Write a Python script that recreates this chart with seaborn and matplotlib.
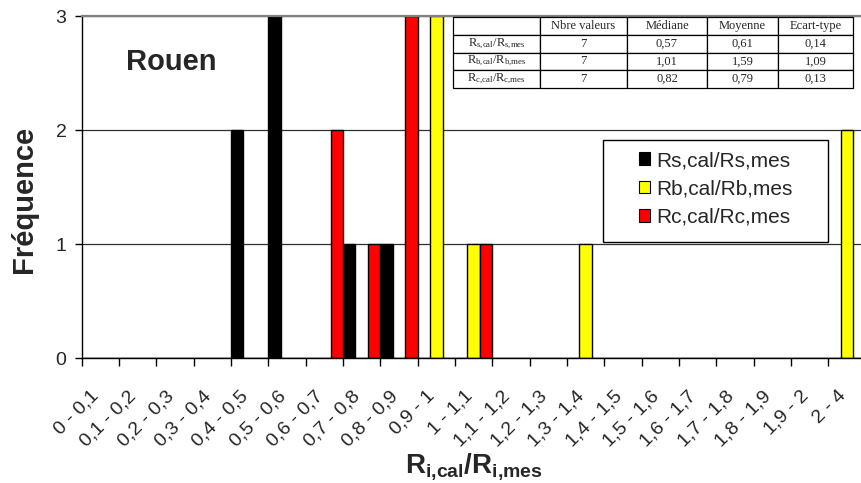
import numpy as np
import pandas as pd
import matplotlib
matplotlib.use("Agg")
import matplotlib.pyplot as plt
import matplotlib.transforms as mtransforms
from matplotlib.patches import Patch, Rectangle
import seaborn as sns

# classes de R_cal/R_mes (axe x)
CATEGORIES = ["0 - 0,1", "0,1 - 0,2", "0,2 - 0,3", "0,3 - 0,4", "0,4 - 0,5",
              "0,5 - 0,6", "0,6 - 0,7", "0,7 - 0,8", "0,8 - 0,9", "0,9 - 1",
              "1 - 1,1", "1,1 - 1,2", "1,2 - 1,3", "1,3 - 1,4", "1,4 - 1,5",
              "1,5 - 1,6", "1,6 - 1,7", "1,7 - 1,8", "1,8 - 1,9", "1,9 - 2",
              "2 - 4"]
SERIES = ["Rs,cal/Rs,mes", "Rb,cal/Rb,mes", "Rc,cal/Rc,mes"]
RS = [0, 0, 0, 0, 2, 3, 0, 1, 1, 0, 0, 0, 0, 0, 0, 0, 0, 0, 0, 0, 0]
RB = [0, 0, 0, 0, 0, 0, 0, 0, 0, 3, 1, 0, 0, 1, 0, 0, 0, 0, 0, 0, 2]
RC = [0, 0, 0, 0, 0, 0, 2, 1, 3, 0, 1, 0, 0, 0, 0, 0, 0, 0, 0, 0, 0]
COLORS = ["#000000", "#FFFF00", "#FF0000"]

# tableau des statistiques
TABLE_COLS = ["", "Nbre valeurs", "Médiane", "Moyenne", "Ecart-type"]
TABLE_ROWS = [r"$\mathrm{R_{s{,}cal}/R_{s{,}mes}}$",
              r"$\mathrm{R_{b{,}cal}/R_{b{,}mes}}$",
              r"$\mathrm{R_{c{,}cal}/R_{c{,}mes}}$"]
NBRE = ["7", "7", "7"]
MEDIANE = ["0,57", "1,01", "0,82"]
MOYENNE = ["0,61", "1,59", "0,79"]
ECART = ["0,14", "1,09", "0,13"]

W, H = 862, 483

sns.set_theme(style="white")
plt.rcParams["font.family"] = ["Liberation Sans", "DejaVu Sans"]
plt.rcParams["mathtext.fontset"] = "custom"
plt.rcParams["mathtext.rm"] = "Liberation Serif"
plt.rcParams["mathtext.sf"] = "Liberation Sans:bold"

df = pd.DataFrame({
    "classe": CATEGORIES * 3,
    "serie": np.repeat(SERIES, len(CATEGORIES)),
    "freq": RS + RB + RC,
})

fig = plt.figure(figsize=(W / 100, H / 100), dpi=100)
ax = fig.add_axes([81.7 / W, 1 - 358.3 / H, 784 / W, 342.3 / H])

sns.barplot(data=df, x="classe", y="freq", hue="serie", order=CATEGORIES,
            hue_order=SERIES, palette=COLORS, width=1.0, saturation=1,
            edgecolor="black", linewidth=1, errorbar=None, legend=False, ax=ax)

ax.set_xlim(-0.5, 20.5)
ax.set_ylim(0, 3)
ax.set_yticks([0, 1, 2, 3])
ax.yaxis.grid(True, color="#303030", linewidth=0.9)
ax.set_axisbelow(True)

for side in ["left", "bottom"]:
    ax.spines[side].set_color("black")
    ax.spines[side].set_linewidth(1)
ax.spines["top"].set_color("#808080")
ax.spines["top"].set_linewidth(1.6)
ax.spines["right"].set_visible(False)

# graduations entre les classes, étiquettes au centre
ax.set_xticks(np.arange(-0.5, 21, 1), minor=True)
ax.set_xticks(range(len(CATEGORIES)))
ax.set_xticklabels(CATEGORIES, rotation=45, ha="right", va="top",
                   rotation_mode="anchor", fontsize=14)
ax.tick_params(axis="x", which="minor", length=6, width=1, color="black",
               direction="out", bottom=True)
ax.tick_params(axis="x", which="major", length=0, pad=21)
ax.tick_params(axis="y", length=5, width=1, color="black", direction="out",
               left=True, labelsize=14, pad=6)
shift = mtransforms.ScaledTranslation(-10 / 100, 0, fig.dpi_scale_trans)
for lbl in ax.get_xticklabels():
    lbl.set_transform(lbl.get_transform() + shift)

ax.set_xlabel(r"$\mathsf{R_{i{,}cal}/R_{i{,}mes}}$", fontsize=20, va="center")
ax.xaxis.set_label_coords(0.5, (358.3 - 466) / 342.3)
ax.set_ylabel("Fréquence", fontsize=21, fontweight="bold", va="center",
              ha="center")
ax.yaxis.set_label_coords((24 - 81.7) / 784, (358.3 - 199) / 342.3)

fig.text(171 / W, 1 - 70 / H, "Rouen", ha="center", va="baseline",
         fontsize=21, fontweight="bold")

# légende
handles = [Patch(facecolor=c, edgecolor="black", linewidth=0.8) for c in COLORS]
ax.legend(handles, SERIES, loc="center left",
          bbox_to_anchor=(639 / W, 1 - 189 / H), bbox_transform=fig.transFigure,
          frameon=False, fontsize=15, handlelength=0.55, handleheight=0.55,
          handletextpad=0.3, labelspacing=0.45, borderpad=0, borderaxespad=0)
ax.add_patch(Rectangle((603 / W, 1 - 242 / H), 225 / W, 102 / H,
                       transform=fig.transFigure, fill=False,
                       edgecolor="black", linewidth=1, clip_on=False, zorder=4))

# tableau
tax = fig.add_axes([453 / W, 1 - 88 / H, 400 / W, 71 / H])
tax.axis("off")
cells = [TABLE_COLS] + [[TABLE_ROWS[i], NBRE[i], MEDIANE[i], MOYENNE[i], ECART[i]]
                        for i in range(3)]
widths = np.array([87, 87, 80, 71, 75]) / 400
tbl = tax.table(cellText=cells, colWidths=widths, cellLoc="center",
                bbox=[0, 0, 1, 1])
tbl.auto_set_font_size(False)
tbl.set_fontsize(9)
for cell in tbl.get_celld().values():
    cell.set_linewidth(0.9)
    cell.set_edgecolor("black")
    cell.get_text().set_fontfamily("Liberation Serif")

fig.savefig("out.png", dpi=100)
